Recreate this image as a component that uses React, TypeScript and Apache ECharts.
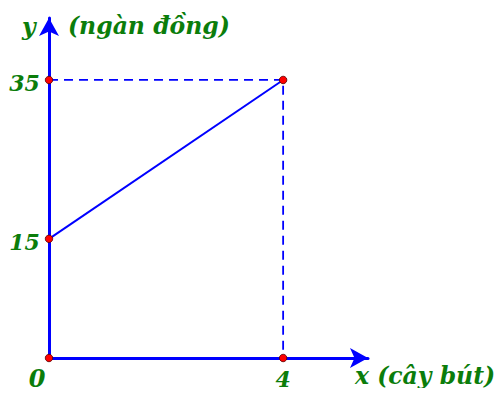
import React, { useEffect, useRef } from "react";
import * as echarts from "echarts";

const linePoints: [number, number][] = [
  [0, 15],
  [4, 35],
];
const dashedPoints: [number, number][] = [
  [0, 35],
  [4, 35],
  [4, 0],
];
const dotPoints: { value: [number, number]; label: string; pos: string }[] = [
  { value: [0, 0], label: "0", pos: "origin" },
  { value: [0, 15], label: "15", pos: "left" },
  { value: [0, 35], label: "35", pos: "left" },
  { value: [4, 35], label: "", pos: "none" },
  { value: [4, 0], label: "4", pos: "bottom" },
];
const xTitle = "x (cây bút)";
const yTitle = "y";
const yUnit = "(ngàn đồng)";

const GREEN = "#0b7d0b";
const BLUE = "#0000ff";
const FONT = "DejaVu Serif";

export default function App() {
  const ref = useRef<HTMLDivElement>(null);
  useEffect(() => {
    if (!ref.current) return;
    const chart = echarts.init(ref.current, undefined, { renderer: "svg" });
    const labelBase = {
      show: true,
      color: GREEN,
      opacity: 1,
      fontFamily: FONT,
      fontStyle: "italic",
      fontWeight: "bold",
      fontSize: 22,
    };
    const titleStyle = (text: string) => ({
      text,
      fill: GREEN,
      fontFamily: FONT,
      fontStyle: "italic",
      fontWeight: "bold",
      fontSize: 23.5,
    });
    chart.setOption({
      animation: false,
      grid: { left: 49, right: 136, top: 18, bottom: 38 },
      xAxis: {
        type: "value",
        min: 0,
        max: 5.45,
        splitLine: { show: false },
        axisTick: { show: false },
        axisLabel: { show: false },
        axisLine: {
          show: true,
          onZero: false,
          lineStyle: { color: BLUE, width: 3 },
          symbol: ["none", "arrow"],
          symbolSize: [15, 18],
        },
      },
      yAxis: {
        type: "value",
        min: 0,
        max: 42.8,
        splitLine: { show: false },
        axisTick: { show: false },
        axisLabel: { show: false },
        axisLine: {
          show: true,
          onZero: false,
          lineStyle: { color: BLUE, width: 3 },
          symbol: ["none", "arrow"],
          symbolSize: [15, 18],
        },
      },
      series: [
        {
          type: "line",
          data: dashedPoints,
          symbol: "none",
          lineStyle: { color: BLUE, width: 1.8, type: [9, 6] },
          z: 2,
        },
        {
          type: "line",
          data: linePoints,
          symbol: "none",
          lineStyle: { color: BLUE, width: 2 },
          z: 3,
        },
        {
          type: "scatter",
          symbolSize: 7.5,
          itemStyle: { color: "#ff0000", borderColor: "#550000", borderWidth: 0.8, opacity: 1 },
          z: 5,
          data: dotPoints.map((d) => {
            let label: any = { show: false };
            if (d.pos === "left") {
              label = { ...labelBase, formatter: d.label, position: "left", distance: 5, offset: [0, 3] };
            } else if (d.pos === "bottom") {
              label = { ...labelBase, formatter: d.label, position: "bottom", distance: 6 };
            } else if (d.pos === "origin") {
              label = { ...labelBase, fontSize: 24, formatter: d.label, position: "bottom", distance: 4, offset: [-12, 0] };
            }
            return { value: d.value, label };
          }),
        },
      ],
      graphic: [
        { type: "text", left: 22, top: 15, style: titleStyle(yTitle) },
        { type: "text", left: 68, top: 14, style: titleStyle(yUnit) },
        { type: "text", left: 355, top: 364, style: titleStyle(xTitle) },
      ],
    });
    return () => chart.dispose();
  }, []);
  return <div ref={ref} style={{ width: 504, height: 396, margin: -8 }} />;
}
